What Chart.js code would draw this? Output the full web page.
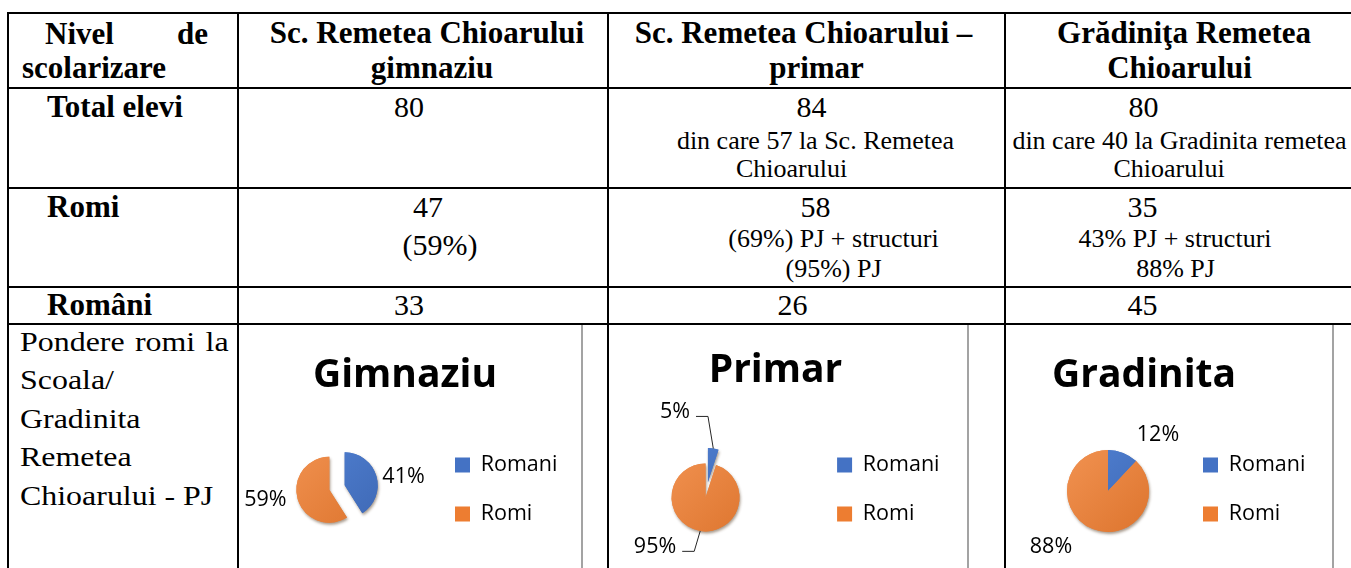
<!DOCTYPE html>
<html><head><meta charset="utf-8">
<script src="https://cdn.jsdelivr.net/npm/chart.js@4.4.1/dist/chart.umd.min.js"></script>
<style>
html,body{margin:0;padding:0;background:#fff;}
#page{position:relative;width:1351px;height:568px;overflow:hidden;background:#fff;}
.h{position:absolute;height:2px;background:#000;z-index:3;left:7px;width:1344px;}
.v{position:absolute;width:2px;background:#000;z-index:3;top:12px;height:556px;}
.g{position:absolute;width:2px;background:#a3a3a3;z-index:3;top:325px;height:243px;}
.t{position:absolute;white-space:nowrap;line-height:1;font-family:"Liberation Serif","Times New Roman",serif;color:#000;z-index:2;}
.b{font-weight:bold;font-size:31px;}
.n{font-size:30px;}
.s{font-size:26px;}
.c{text-align:center;width:500px;}
.p{font-size:28px;transform:scaleX(1.14);transform-origin:0 0;left:20px;}
canvas{position:absolute;z-index:1;}
</style></head>
<body>
<div id="page">
  <div class="h" style="top:12px"></div>
  <div class="h" style="top:87px"></div>
  <div class="h" style="top:187px"></div>
  <div class="h" style="top:286px"></div>
  <div class="h" style="top:323px"></div>
  <div class="v" style="left:7px"></div>
  <div class="v" style="left:237px"></div>
  <div class="v" style="left:607px"></div>
  <div class="v" style="left:1004px"></div>
  <div class="g" style="left:581px"></div>
  <div class="g" style="left:967px"></div>
  <div class="g" style="left:1332px"></div>

  <div class="t b" style="left:21px;top:18px;width:187px;text-align:justify;text-align-last:justify;text-indent:24px;">Nivel de</div>
  <div class="t b" style="left:22px;top:52px">scolarizare</div>
  <div class="t b c" style="left:177px;top:17px">Sc. Remetea Chioarului</div>
  <div class="t b c" style="left:182px;top:52px">gimnaziu</div>
  <div class="t b c" style="left:553.5px;top:17px">Sc. Remetea Chioarului –</div>
  <div class="t b c" style="left:566.5px;top:52px">primar</div>
  <div class="t b c" style="left:934px;top:17px">Grădiniţa Remetea</div>
  <div class="t b c" style="left:929.5px;top:52px">Chioarului</div>

  <div class="t b" style="left:47px;top:91px">Total elevi</div>
  <div class="t n c" style="left:159px;top:92px">80</div>
  <div class="t n c" style="left:561.5px;top:92px">84</div>
  <div class="t s c" style="left:565.5px;top:128px">din care 57 la Sc. Remetea</div>
  <div class="t s c" style="left:541.5px;top:156px">Chioarului</div>
  <div class="t n c" style="left:893.5px;top:92px">80</div>
  <div class="t s c" style="left:929.5px;top:128px">din care 40 la Gradinita remetea</div>
  <div class="t s c" style="left:919px;top:156px">Chioarului</div>

  <div class="t b" style="left:47px;top:191px">Romi</div>
  <div class="t n c" style="left:178px;top:192px">47</div>
  <div class="t n c" style="left:190px;top:230px">(59%)</div>
  <div class="t n c" style="left:565.5px;top:192px">58</div>
  <div class="t s c" style="left:583.5px;top:226px">(69%) PJ + structuri</div>
  <div class="t s c" style="left:583.5px;top:256px">(95%) PJ</div>
  <div class="t n c" style="left:892.5px;top:192px">35</div>
  <div class="t s c" style="left:925px;top:226px">43% PJ + structuri</div>
  <div class="t s c" style="left:925.5px;top:256px">88% PJ</div>

  <div class="t b" style="left:47px;top:289px">Români</div>
  <div class="t n c" style="left:159px;top:290px">33</div>
  <div class="t n c" style="left:542.5px;top:290px">26</div>
  <div class="t n c" style="left:892.5px;top:290px">45</div>

  <div class="t p" style="top:327.5px;width:183px;text-align:justify;text-align-last:justify;">Pondere romi la</div>
  <div class="t p" style="top:366px">Scoala/</div>
  <div class="t p" style="top:405px">Gradinita</div>
  <div class="t p" style="top:443px">Remetea</div>
  <div class="t p" style="top:482px">Chioarului - PJ</div>

  <canvas id="c1" width="343" height="243" style="left:239px;top:325px"></canvas>
  <canvas id="c2" width="370" height="243" style="left:598px;top:325px"></canvas>
  <canvas id="c3" width="327" height="243" style="left:1006px;top:325px"></canvas>
</div>
<script>
const categories = ['Romani', 'Romi'];
const chartTitles = ['Gimnaziu', 'Primar', 'Gradinita'];
const gimnaziuShares = [41, 59];
const primarShares = [5, 95];
const gradinitaShares = [12, 88];

const sliceColors = ['#4472C4', '#ED7D31'];
const sliceLight = ['#5282D4', '#F29352'];
const sliceDark = ['#3C66B2', '#DC732C'];

function sliceFill(c) {
  const i = c.dataIndex || 0;
  const ch = c.chart, a = ch.chartArea;
  if (!a) return sliceColors[i];
  const cx = (a.left + a.right) / 2, cy = (a.top + a.bottom) / 2, r = 45;
  const g = ch.ctx.createLinearGradient(cx - r, cy - r, cx + r, cy + r);
  g.addColorStop(0, sliceLight[i]);
  g.addColorStop(1, sliceDark[i]);
  return g;
}

const piePlugin = {
  id: 'excelPie',
  afterLayout(chart, args, opts) {
    const lg = chart.legend;
    if (lg && opts.legendExtra) {
      lg.width += opts.legendExtra;
      lg.right += opts.legendExtra;
    }
  },
  beforeDatasetDraw(chart, args, opts) {
    const ctx = chart.ctx, arcs = args.meta.data, ex = opts.explode || [];
    for (const shadow of [true, false]) {
      arcs.forEach((arc, i) => {
        const mid = (arc.startAngle + arc.endAngle) / 2, e = ex[i] || 0;
        ctx.save();
        ctx.translate(Math.cos(mid) * e, Math.sin(mid) * e);
        if (shadow) {
          ctx.shadowColor = 'rgba(60,30,0,0.45)';
          ctx.shadowBlur = 3;
          ctx.shadowOffsetX = 1;
          ctx.shadowOffsetY = 2;
        }
        arc.draw(ctx);
        ctx.restore();
      });
    }
    return false;
  },
  afterDatasetsDraw(chart, args, opts) {
    const ctx = chart.ctx, meta = chart.getDatasetMeta(0);
    const data = chart.data.datasets[0].data, ex = opts.explode || [];
    ctx.save();
    ctx.font = '21.5px "Open Sans"';
    ctx.fillStyle = '#000';
    ctx.textAlign = 'center';
    ctx.textBaseline = 'middle';
    meta.data.forEach((arc, i) => {
      const mid = (arc.startAngle + arc.endAngle) / 2, e = ex[i] || 0;
      const cx = arc.x + Math.cos(mid) * e, cy = arc.y + Math.sin(mid) * e;
      const deg = opts.place[i][0], f = opts.place[i][1];
      const a = deg * Math.PI / 180, r = arc.outerRadius * f;
      const lx = cx + Math.sin(a) * r, ly = cy - Math.cos(a) * r;
      const txt = data[i] + '%';
      ctx.fillText(txt, lx, ly);
      if (opts.leaders && opts.leaders[i]) {
        const w = ctx.measureText(txt).width;
        const x0 = lx + w / 2 + 6, y0 = ly + 4.5;
        const x2 = cx + Math.cos(mid) * arc.outerRadius, y2 = cy + Math.sin(mid) * arc.outerRadius;
        ctx.beginPath();
        ctx.moveTo(x0, y0);
        ctx.lineTo(x0 + 12, y0);
        ctx.lineTo(x2, y2);
        ctx.strokeStyle = '#262626';
        ctx.lineWidth = 1;
        ctx.stroke();
      }
    });
    ctx.restore();
  }
};

function makePie(id, title, values, cfg) {
  return new Chart(document.getElementById(id), {
    type: 'pie',
    data: {
      labels: categories,
      datasets: [{ data: values, backgroundColor: sliceFill, borderWidth: 0, radius: cfg.radius }]
    },
    options: {
      responsive: false,
      animation: false,
      events: [],
      layout: { padding: cfg.pad },
      plugins: {
        title: {
          display: true, text: title, color: '#000',
          font: { family: 'Open Sans', size: 39, weight: 'bold' },
          padding: cfg.titlePad
        },
        legend: {
          position: 'right', align: cfg.align, fullSize: false, maxWidth: cfg.legendWidth,
          labels: {
            font: { family: 'Open Sans', size: 21.5 }, color: '#000',
            boxWidth: 15, boxHeight: 15, padding: 27.5,
            generateLabels: (chart) => chart.data.labels.map((l, i) => ({
              text: l, fillStyle: sliceColors[i], strokeStyle: sliceColors[i],
              lineWidth: 0, hidden: false, index: i
            }))
          }
        },
        tooltip: { enabled: false },
        excelPie: { explode: cfg.explode, place: cfg.place, leaders: cfg.leaders, legendExtra: cfg.legendExtra || 0 }
      }
    },
    plugins: [piePlugin]
  });
}

makePie('c1', chartTitles[0], gimnaziuShares, {
  radius: 33, pad: { left: 7.5, right: 18.5, top: 0, bottom: 15.75 },
  titlePad: { top: 27.4, bottom: 23.55 }, align: 'end', legendWidth: 136, legendExtra: 10,
  explode: [8, 8], place: [[82.3, 1.80], [261.1, 1.96]], leaders: [false, false]
});
makePie('c2', chartTitles[1], primarShares, {
  radius: 34, pad: { left: 3.5, right: 18.5, top: 0, bottom: 0 },
  titlePad: { top: 22.9, bottom: 32.05 }, align: 'start', legendWidth: 140, legendExtra: 10,
  explode: [15.5, 0], place: [[334.8, 2.28], [225.6, 2.08]], leaders: [true, true]
});
makePie('c3', chartTitles[2], gradinitaShares, {
  radius: 41, pad: { left: 34.5, right: 85.5, top: 0, bottom: 12.75 },
  titlePad: { top: 27.9, bottom: 27.05 }, align: 'start', legendWidth: 72, legendExtra: 80,
  explode: [0, 0], place: [[41.8, 1.83], [225.5, 1.95]], leaders: [false, false]
});
</script>
</body></html>
